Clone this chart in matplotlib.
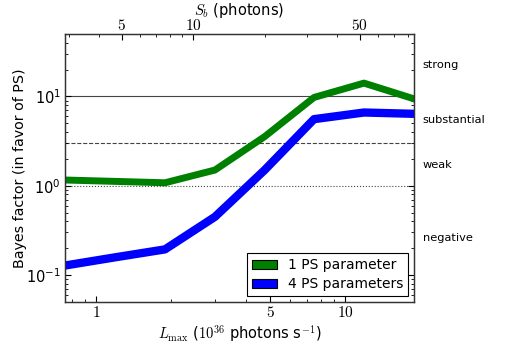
import matplotlib
matplotlib.use("Agg")
import matplotlib.pyplot as plt
import matplotlib.ticker as mticker
from matplotlib.patches import Patch

plt.rcParams['mathtext.fontset'] = 'cm'
plt.rcParams['font.family'] = ['DejaVu Sans']

L_max = [0.75, 1.19, 1.89, 3.0, 4.75, 7.5, 11.9, 18.9]
bf_1ps = [1.16, 1.12, 1.08, 1.50, 3.55, 9.75, 14.1, 9.4]
bf_4ps = [0.128, 0.158, 0.194, 0.449, 1.50, 5.57, 6.61, 6.39]
labels = ['1 PS parameter', '4 PS parameters']
colors = ['green', 'blue']
widths = [5.0, 6.0]

thresholds = [10, 3, 1]
threshold_styles = ['-', '--', ':']
strength_labels = ['strong', 'substantial', 'weak', 'negative']
strength_pos = [22.4, 5.48, 1.73, 0.26]

bottom_ticks = [1, 5, 10]
top_ticks = [5, 10, 50]
top_lim = (2.89, 84.6)

fig = plt.figure(figsize=(5.19, 3.46), dpi=100)
ax = fig.add_axes([0.1252, 0.1272, 0.6725, 0.7745])

for t, ls in zip(thresholds, threshold_styles):
    ax.axhline(t, color='#444444', ls=ls, lw=0.8, zorder=1)

ax.plot(L_max, bf_1ps, color=colors[0], lw=widths[0], zorder=2)
ax.plot(L_max, bf_4ps, color=colors[1], lw=widths[1], zorder=2)

ax.set_xscale('log')
ax.set_yscale('log')
ax.set_xlim(L_max[0], L_max[-1])
ax.set_ylim(0.05, 50)

ax.xaxis.set_major_locator(mticker.FixedLocator(bottom_ticks))
ax.xaxis.set_major_formatter(mticker.FixedFormatter(['$%d$' % t for t in bottom_ticks]))
ax.xaxis.set_minor_locator(mticker.LogLocator(base=10, subs=range(2, 10)))
ax.xaxis.set_minor_formatter(mticker.NullFormatter())

ax.tick_params(which='both', direction='in', top=False, right=True)
ax.tick_params(axis='x', labelsize=11, pad=2.5)
ax.tick_params(axis='y', labelsize=10.5, pad=3)
ax.tick_params(which='major', length=4)
ax.tick_params(which='minor', length=2)

for sp in ax.spines.values():
    sp.set_color('#333333')
    sp.set_linewidth(0.9)

ax.set_xlabel(r'$L_{\rm max}$ ($10^{36}$ photons s$^{-1}$)', fontsize=10.5, labelpad=2)
ax.set_ylabel('Bayes factor (in favor of PS)', fontsize=10.3, labelpad=-1)

ax2 = ax.twiny()
ax2.set_xscale('log')
ax2.set_xlim(*top_lim)
ax2.xaxis.set_major_locator(mticker.FixedLocator(top_ticks))
ax2.xaxis.set_major_formatter(mticker.FixedFormatter(['$%d$' % t for t in top_ticks]))
ax2.xaxis.set_minor_locator(mticker.LogLocator(base=10, subs=range(2, 10)))
ax2.xaxis.set_minor_formatter(mticker.NullFormatter())
ax2.tick_params(which='both', direction='in', labelsize=11, pad=1)
ax2.tick_params(which='major', length=4)
ax2.tick_params(which='minor', length=2)
ax2.set_xlabel(r'$S_b$ (photons)', fontsize=10.5, labelpad=2)
for sp in ax2.spines.values():
    sp.set_color('#333333')
    sp.set_linewidth(0.9)

trans = matplotlib.transforms.blended_transform_factory(ax.transAxes, ax.transData)
for txt, y in zip(strength_labels, strength_pos):
    ax.text(1.025, y, txt, transform=trans, fontsize=8.2, va='center', ha='left')

handles = [Patch(facecolor=c, edgecolor='black', lw=0.8) for c in colors]
leg = ax.legend(handles, labels, loc='lower right', fontsize=10, fancybox=False,
                framealpha=1, edgecolor='black', borderaxespad=0.43,
                handlelength=1.84, handleheight=0.65, handletextpad=0.75,
                borderpad=0.35, labelspacing=0.35)
leg.get_frame().set_linewidth(0.8)

fig.savefig('out.png', dpi=100)
